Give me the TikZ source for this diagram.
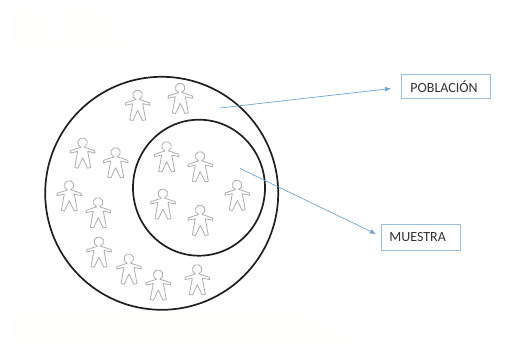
\documentclass[tikz,border=0pt]{standalone}
\usepackage{fontspec}
\setmainfont{Carlito}
\usetikzlibrary{arrows.meta,shapes.geometric}
\definecolor{linkblue}{HTML}{6FA5D6}
\definecolor{boxblue}{HTML}{9CBEDF}
\definecolor{wash}{HTML}{FEFEFA}
\tikzset{
  x=1pt,y=1pt,
  ring/.style={draw=black!88,line width=1.7pt},
  labelbox/.style={draw=boxblue,line width=0.8pt,inner ysep=0pt,font=\fontsize{14}{15}\selectfont,text=black!80,anchor=west,align=left},
  link/.style={draw=linkblue,line width=0.7pt,-{Latex[length=6pt,width=5pt]}},
  personline/.style={draw=black!32,line width=0.8pt,line join=round},
  person/.pic={
    \draw[personline] (1.8,5.8) -- (12,2.4) -- (12.4,0) -- (5,1.6) -- (8,-14.6) -- (4.8,-15.2) -- (0,-5) -- (-4.8,-15.2) -- (-8,-14.6) -- (-5,1.6) -- (-12.4,0) -- (-12,2.4) -- (-1.8,5.8)
      arc[start angle=250,end angle=-70,radius=4.8] -- cycle;
  }
}
\begin{document}
\begin{tikzpicture}
\useasboundingbox (0,0) rectangle (523,346);
\fill[wash] (13,301) -- (60,301) -- (40,333) -- (13,333) -- cycle;
\fill[wash] (70,301) -- (125,301) -- (100,333) -- (60,333) -- cycle;
\fill[wash] (13,3) -- (360,3) -- (300,30) -- (13,30) -- cycle;
\foreach \px/\py in {137.7/105.3,180.3/98.3,82.7/153,115.7/162.7,166.7/156.7,200.3/166.7,69.3/195.7,98.3/212.7,163/204,200.3/220.3,237.3/195.3,99/252,129/269,158.3/285,197.3/279.7}
  \pic at (\px,{346-\py}) {person};
\node[ring,circle,minimum size=233pt,inner sep=0pt] (outer) at (161.7,152.7) {};
\node[ring,ellipse,minimum width=132pt,minimum height=136pt,inner sep=0pt] (inner) at (199,158.3) {};
\node[labelbox,inner xsep=9pt,text width=71pt,minimum height=24pt] (pob) at (401,259.5) {POBLACIÓN};
\node[labelbox,inner xsep=8pt,text width=63pt,minimum height=26pt] (mue) at (381,109) {MUESTRA};
\coordinate (pobstart) at (220,238);
\coordinate (muestart) at (240,177.5);
\draw[link] (pobstart) -- ([xshift=-10pt,yshift=-2pt]pob.west);
\draw[link] (muestart) -- ([xshift=-5pt,yshift=3pt]mue.west);
\end{tikzpicture}
\end{document}
